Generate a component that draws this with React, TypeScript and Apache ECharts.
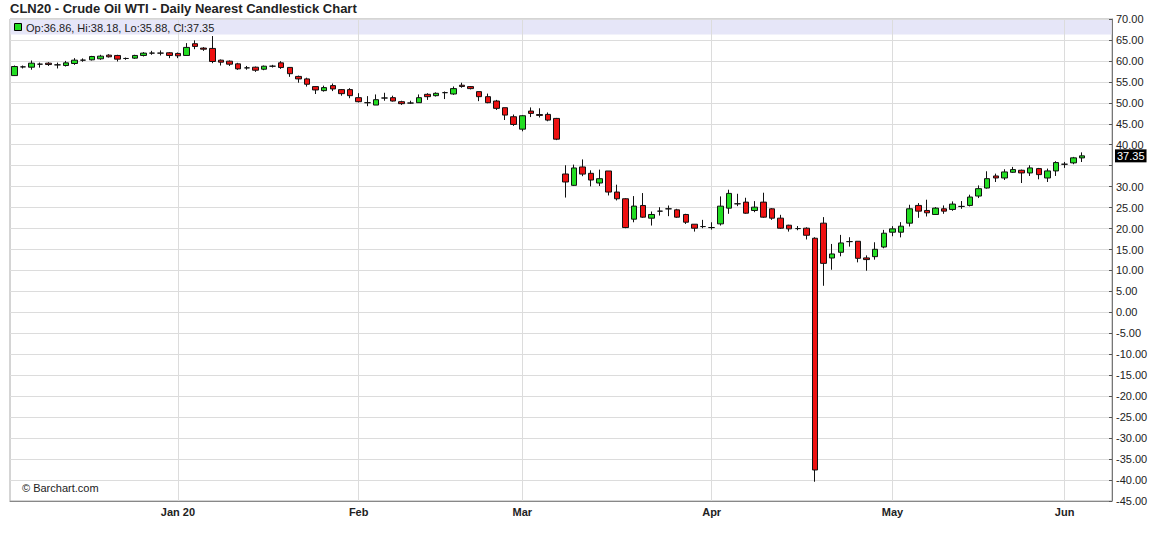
import React, { useEffect, useRef } from "react";
import * as echarts from "echarts";

const TITLE = "CLN20 - Crude Oil WTI - Daily Nearest Candlestick Chart";

const dates: string[] = [
  "2019-12-04", "2019-12-05", "2019-12-06", "2019-12-09", "2019-12-10", "2019-12-11", "2019-12-12", "2019-12-13",
  "2019-12-16", "2019-12-17", "2019-12-18", "2019-12-19", "2019-12-20", "2019-12-23", "2019-12-24", "2019-12-26",
  "2019-12-27", "2019-12-30", "2019-12-31",
  "2020-01-02", "2020-01-03", "2020-01-06", "2020-01-07", "2020-01-08", "2020-01-09", "2020-01-10", "2020-01-13",
  "2020-01-14", "2020-01-15", "2020-01-16", "2020-01-17", "2020-01-21", "2020-01-22", "2020-01-23", "2020-01-24",
  "2020-01-27", "2020-01-28", "2020-01-29", "2020-01-30", "2020-01-31",
  "2020-02-03", "2020-02-04", "2020-02-05", "2020-02-06", "2020-02-07", "2020-02-10", "2020-02-11", "2020-02-12",
  "2020-02-13", "2020-02-14", "2020-02-18", "2020-02-19", "2020-02-20", "2020-02-21", "2020-02-24", "2020-02-25",
  "2020-02-26", "2020-02-27", "2020-02-28",
  "2020-03-02", "2020-03-03", "2020-03-04", "2020-03-05", "2020-03-06", "2020-03-09", "2020-03-10", "2020-03-11",
  "2020-03-12", "2020-03-13", "2020-03-16", "2020-03-17", "2020-03-18", "2020-03-19", "2020-03-20", "2020-03-23",
  "2020-03-24", "2020-03-25", "2020-03-26", "2020-03-27", "2020-03-30", "2020-03-31",
  "2020-04-01", "2020-04-02", "2020-04-03", "2020-04-06", "2020-04-07", "2020-04-08", "2020-04-09", "2020-04-13",
  "2020-04-14", "2020-04-15", "2020-04-16", "2020-04-17", "2020-04-20", "2020-04-21", "2020-04-22", "2020-04-23",
  "2020-04-24", "2020-04-27", "2020-04-28", "2020-04-29", "2020-04-30",
  "2020-05-01", "2020-05-04", "2020-05-05", "2020-05-06", "2020-05-07", "2020-05-08", "2020-05-11", "2020-05-12",
  "2020-05-13", "2020-05-14", "2020-05-15", "2020-05-18", "2020-05-19", "2020-05-20", "2020-05-21", "2020-05-22",
  "2020-05-26", "2020-05-27", "2020-05-28", "2020-05-29",
  "2020-06-01", "2020-06-02", "2020-06-03",
];

// empty slots to the right of the last session
const paddingSlots: string[] = [" ", "  ", "   "];

const opens: number[] = [
  56.5, 58.58, 58.5, 59.22, 59.46, 59.06, 58.9, 59.38, 60.18, 60.26, 60.5, 61.38, 61.3, 60.58, 60.66, 61.3, 61.86, 61.86, 61.94,
  61.78, 61.3, 64.1, 63.06, 62.98, 60.18, 59.94, 59.3, 58.34, 58.5, 58.02, 58.74, 59.54, 58.45, 56.3, 55.71, 53.87, 52.91, 54.11, 53.15, 53.15,
  51.23, 50.03, 49.47, 51.15, 51.23, 50.27, 49.95, 50.03, 52.03, 51.71, 52.43, 52.11, 54.2, 53.87, 52.67, 51.47, 50.43, 48.84, 46.68,
  43.72, 48.04, 47.2, 47.24, 46.28, 33.02, 30.31, 34.7, 33.18, 30.87, 33.74, 28.71, 27.11, 22.24, 25.51, 22.48, 24.15, 24.71, 24.47, 23.36, 21.04, 20.48,
  20.24, 21.12, 24.87, 25.91, 26.31, 24.31, 26.31, 24.71, 22.48, 20.8, 20.0, 20.09, 17.69, 21.29, 12.98, 14.34, 16.89, 16.97, 13.0, 13.3, 15.6,
  19.13, 19.13, 21.29, 25.52, 24.32, 23.36, 24.72, 24.56, 25.28, 25.52, 27.76, 29.67, 32.55, 32.07, 33.43, 33.91, 33.27, 34.31, 32.07, 33.75,
  35.35, 35.67, 36.86,
];

const closes: number[] = [
  58.66, 58.58, 59.46, 59.22, 59.14, 59.06, 59.54, 60.18, 60.18, 61.06, 61.14, 60.98, 60.42, 60.58, 61.3, 61.86, 61.86, 61.86, 61.3,
  61.22, 63.22, 63.46, 62.8, 59.86, 59.7, 59.22, 58.1, 58.34, 57.78, 58.74, 58.74, 58.42, 56.95, 55.7, 54.43, 53.07, 53.63, 53.31, 52.19, 51.71,
  50.27, 50.03, 50.75, 51.15, 50.43, 49.8, 49.95, 51.23, 51.47, 52.27, 52.43, 53.39, 53.9, 53.39, 51.47, 50.03, 48.68, 47.08, 44.84,
  46.92, 47.48, 47.0, 45.88, 41.33, 31.11, 34.46, 33.0, 31.58, 31.9, 28.71, 27.11, 20.24, 25.36, 22.72, 23.36, 24.15, 24.71, 22.72, 21.52, 20.08, 20.48,
  20.24, 25.35, 28.39, 25.91, 23.67, 25.11, 22.72, 22.48, 20.08, 19.93, 20.0, 18.4, -37.6, 11.7, 13.94, 16.57, 16.89, 12.9, 12.6, 15.05, 18.89,
  19.93, 20.57, 24.72, 24.16, 23.76, 24.88, 24.16, 25.84, 25.28, 27.52, 29.52, 31.91, 32.07, 33.51, 34.07, 33.27, 34.47, 32.87, 33.75, 35.75,
  35.35, 36.87, 37.35,
];

const lows: number[] = [
  56.4, 58.2, 57.9, 58.4, 58.8, 58.2, 58.66, 59.06, 59.8, 60.1, 60.26, 60.8, 59.86, 60.26, 60.5, 61.06, 61.46, 61.3, 60.66,
  60.66, 61.3, 62.8, 62.4, 59.46, 58.9, 58.8, 57.86, 57.9, 57.38, 57.78, 58.42, 58.1, 56.2, 54.8, 53.87, 52.1, 52.67, 52.8, 51.7, 51.1,
  50.1, 49.2, 49.47, 50.5, 50.3, 49.5, 49.8, 50.03, 50.7, 51.5, 50.9, 51.9, 53.6, 53.2, 50.4, 49.9, 48.3, 45.9, 44.5,
  43.2, 46.6, 46.5, 45.6, 41.1, 27.4, 30.15, 32.5, 30.07, 30.15, 27.9, 26.71, 20.08, 21.5, 22.56, 20.72, 23.1, 22.96, 22.56, 21.1, 19.28, 20.08,
  19.76, 20.72, 23.52, 25.35, 23.52, 23.91, 22.56, 22.08, 19.9, 19.28, 19.6, 17.4, -40.4, 6.35, 10.18, 13.38, 15.69, 11.94, 9.94, 12.58, 15.3,
  18.17, 17.9, 20.49, 22.56, 22.88, 23.28, 23.52, 24.24, 24.72, 25.28, 27.28, 29.52, 31.11, 31.59, 33.27, 30.87, 32.55, 31.75, 31.11, 32.55,
  34.47, 35.35, 35.88,
];

const highs: number[] = [
  58.9, 58.9, 60.1, 59.6, 59.7, 59.6, 60.0, 60.66, 60.6, 61.2, 61.46, 61.6, 61.46, 60.8, 61.46, 62.1, 62.4, 62.5, 62.1,
  62.0, 64.25, 64.9, 63.3, 65.93, 60.34, 60.1, 59.54, 58.8, 58.66, 58.9, 59.06, 59.94, 58.5, 56.5, 56.0, 53.9, 54.1, 54.6, 53.3, 53.5,
  52.3, 51.6, 52.0, 52.4, 51.7, 50.5, 50.5, 52.0, 52.3, 52.5, 52.7, 53.9, 54.8, 54.0, 52.67, 52.2, 50.7, 48.84, 47.2,
  47.1, 48.9, 48.7, 47.7, 46.4, 35.1, 35.26, 36.5, 33.9, 34.06, 33.74, 30.47, 27.27, 27.75, 28.47, 24.07, 25.1, 25.5, 24.71, 23.52, 21.04, 22.08,
  21.5, 27.67, 29.27, 28.3, 27.35, 26.55, 28.55, 24.87, 23.28, 20.9, 20.6, 20.3, 17.93, 22.73, 16.33, 18.49, 17.93, 16.97, 13.6, 16.73, 19.69,
  20.57, 21.53, 25.68, 26.08, 26.88, 25.12, 25.52, 26.48, 26.56, 28.08, 30.3, 33.67, 33.11, 34.15, 34.71, 34.07, 35.11, 34.47, 34.31, 36.07,
  35.9, 37.1, 38.18,
];

const monthTickDates: string[] = ["2020-01-02", "2020-02-03", "2020-03-02", "2020-04-01", "2020-05-01", "2020-06-01"];
const monthTickLabels: string[] = ["Jan 20", "Feb", "Mar", "Apr", "May", "Jun"];

const yMin = -45;
const yMax = 70;
const yStep = 5;
const hiddenYLabel = 35;

const FONT = "'Liberation Sans', Arial, sans-serif";

export default function App() {
  const ref = useRef<HTMLDivElement | null>(null);

  useEffect(() => {
    if (!ref.current) return;
    const chart = echarts.init(ref.current, undefined, { renderer: "svg" });

    const last = dates.length - 1;
    const lastOpen = opens[last];
    const lastClose = closes[last];
    const lastLow = lows[last];
    const lastHigh = highs[last];
    const lastUp = lastClose >= lastOpen;

    const candleData = dates.map((_, i) => [opens[i], closes[i], lows[i], highs[i]]);
    const categories = dates.concat(paddingSlots);

    const option: any = {
      animation: false,
      textStyle: { fontFamily: FONT },
      title: {
        text: TITLE,
        left: 10,
        top: 2,
        padding: 0,
        textStyle: { fontSize: 13, fontWeight: "bold", color: "#222", fontFamily: FONT },
      },
      grid: {
        left: 10,
        right: 44,
        top: 19,
        bottom: 41,
        show: true,
        borderColor: "#aaa",
        borderWidth: 1,
        backgroundColor: "transparent",
      },
      xAxis: {
        type: "category",
        data: categories,
        boundaryGap: true,
        axisLine: { show: true, onZero: false, lineStyle: { color: "#888", width: 1 } },
        axisTick: { show: false },
        splitLine: { show: false },
        axisLabel: {
          interval: (_idx: number, value: string) => monthTickDates.indexOf(value) >= 0,
          formatter: (value: string) => {
            const k = monthTickDates.indexOf(value);
            return k >= 0 ? monthTickLabels[k] : "";
          },
          color: "#222",
          fontSize: 11,
          fontWeight: "bold",
          fontFamily: FONT,
          margin: 5,
          hideOverlap: false,
        },
      },
      yAxis: {
        type: "value",
        position: "right",
        min: yMin,
        max: yMax,
        interval: yStep,
        scale: false,
        axisLine: { show: true, onZero: false, lineStyle: { color: "#777", width: 1 } },
        axisTick: { show: true, inside: true, length: 3, lineStyle: { color: "#555" } },
        splitLine: { show: true, lineStyle: { color: "#dcdcdc", width: 1 } },
        axisLabel: {
          formatter: (v: number) => (v === hiddenYLabel ? "" : v.toFixed(2)),
          color: "#222",
          fontSize: 11,
          fontFamily: FONT,
          margin: 4,
        },
      },
      graphic: [
        {
          type: "rect",
          z: 0,
          silent: true,
          shape: { x: 10.5, y: 19.5, width: 1101, height: 15 },
          style: { fill: "#e6e6f8", stroke: null },
        },
        {
          type: "rect",
          z: 10,
          silent: true,
          shape: { x: 14.5, y: 23.5, width: 7, height: 7 },
          style: { fill: lastUp ? "#22dd22" : "#ee1111", stroke: "#000", lineWidth: 1 },
        },
        {
          type: "text",
          z: 10,
          silent: true,
          x: 26,
          y: 27.5,
          style: {
            text: `Op:${lastOpen.toFixed(2)}, Hi:${lastHigh.toFixed(2)}, Lo:${lastLow.toFixed(2)}, Cl:${lastClose.toFixed(2)}`,
            fill: "#222",
            font: `11px ${FONT}`,
            verticalAlign: "middle",
            align: "left",
          },
        },
        {
          type: "text",
          z: 10,
          silent: true,
          x: 22,
          y: 488,
          style: {
            text: "© Barchart.com",
            fill: "#222",
            font: `11px ${FONT}`,
            verticalAlign: "middle",
            align: "left",
          },
        },
      ],
      series: [
        {
          type: "candlestick",
          name: "CLN20",
          data: candleData,
          barWidth: 6,
          clip: false,
          z: 3,
          itemStyle: {
            color: "#22dd22",
            color0: "#ee1111",
            borderColor: "#111",
            borderColor0: "#111",
            borderColorDoji: "#111",
            borderWidth: 1,
          },
          markLine: {
            silent: true,
            symbol: ["none", "none"],
            z: 1,
            animation: false,
            data: monthTickDates.map((d) => ({
              xAxis: d,
              lineStyle: { color: "#dcdcdc", width: 1, type: "solid" },
              label: { show: false },
            })),
          },
        },
        {
          type: "line",
          name: "last",
          data: [],
          clip: false,
          silent: true,
          markLine: {
            silent: true,
            symbol: ["none", "none"],
            z: 5,
            animation: false,
            lineStyle: { color: "rgba(0,0,0,0)", width: 1, type: "solid" },
            data: [
              {
                yAxis: lastClose,
                label: {
                  show: true,
                  position: "end",
                  distance: 3,
                  formatter: lastClose.toFixed(2),
                  color: "#fff",
                  backgroundColor: "#000",
                  fontSize: 11,
                  fontFamily: FONT,
                  padding: [1, 2, 1, 2],
                },
              },
            ],
          },
        },
      ],
    };

    chart.setOption(option);
    return () => {
      chart.dispose();
    };
  }, []);

  return (
    <div
      ref={ref}
      style={{ position: "fixed", left: 0, top: 0, width: 1156, height: 542, background: "#fff" }}
    />
  );
}
